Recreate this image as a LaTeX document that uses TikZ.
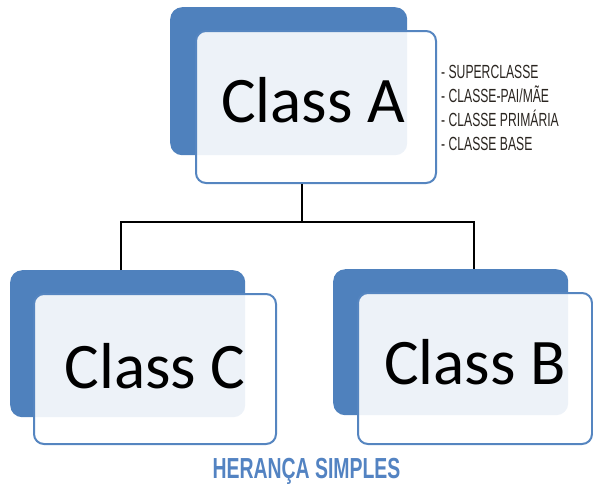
\documentclass[tikz,border=0pt]{standalone}
\usepackage{fontspec}
\newfontfamily\calib{Carlito}
\newfontfamily\condf{Liberation Sans}[FakeStretch=0.64]
\newfontfamily\condb{Liberation Sans Bold}[FakeStretch=0.67]
\definecolor{backblue}{HTML}{4F81BD}
\definecolor{edgeblue}{HTML}{5585C0}
\definecolor{titleblue}{HTML}{5383C2}
\definecolor{listtext}{HTML}{2A2520}
\tikzset{
  backbox/.style={rectangle, rounded corners=12pt, fill=backblue, inner sep=0pt, anchor=north west},
  frontbox/.style={rectangle, rounded corners=10pt, draw=edgeblue, line width=2pt, fill=white, fill opacity=0.9, draw opacity=1, inner sep=0pt, anchor=north west},
  classlabel/.style={anchor=base, inner sep=0pt, font=\calib\fontsize{65}{70}\selectfont},
  listitem/.style={anchor=base west, inner sep=0pt, text=listtext, font=\condf\fontsize{19}{21}\selectfont},
  connector/.style={draw=black, line width=2pt},
}
\begin{document}
\begin{tikzpicture}[x=1pt,y=-1pt]
\useasboundingbox (0,0) rectangle (593,488);
% Class A
\node[backbox, minimum width=237pt, minimum height=148pt] (Aback) at (170,7) {};
\node[frontbox, minimum width=240pt, minimum height=152pt] (Afront) at (195,30) {};
\node[classlabel] (Atext) at (313,122) {Class A};
% Class C
\node[backbox, minimum width=235pt, minimum height=147pt] (Cback) at (10,270) {};
\node[frontbox, minimum width=242pt, minimum height=150pt] (Cfront) at (33,293) {};
\node[classlabel] (Ctext) at (155,388) {Class C};
% Class B
\node[backbox, minimum width=235pt, minimum height=146pt] (Bback) at (333,269) {};
\node[frontbox, minimum width=234pt, minimum height=151pt] (Bfront) at (357,292) {};
\node[classlabel] (Btext) at (475,384) {Class B};
% connectors
\coordinate (jA) at (302,222);
\coordinate (jC) at (121,222);
\coordinate (jB) at (474,222);
\draw[connector] (Afront.south -| jA) -- (jA);
\draw[connector] (jC |- Cback.north) -- (jC) -- (jB) -- (jB |- Bback.north);
% list
\node[listitem] (l1) at (441,78) {- SUPERCLASSE};
\node[listitem] (l2) at (441,102) {- CLASSE-PAI/MÃE};
\node[listitem] (l3) at (441,126) {- CLASSE PRIMÁRIA};
\node[listitem] (l4) at (441,150) {- CLASSE BASE};
% title
\node[anchor=base, inner sep=0pt, text=titleblue, font=\condb\fontsize{29}{31}\selectfont] (title) at (306.5,478) {HERANÇA SIMPLES};
\end{tikzpicture}
\end{document}
